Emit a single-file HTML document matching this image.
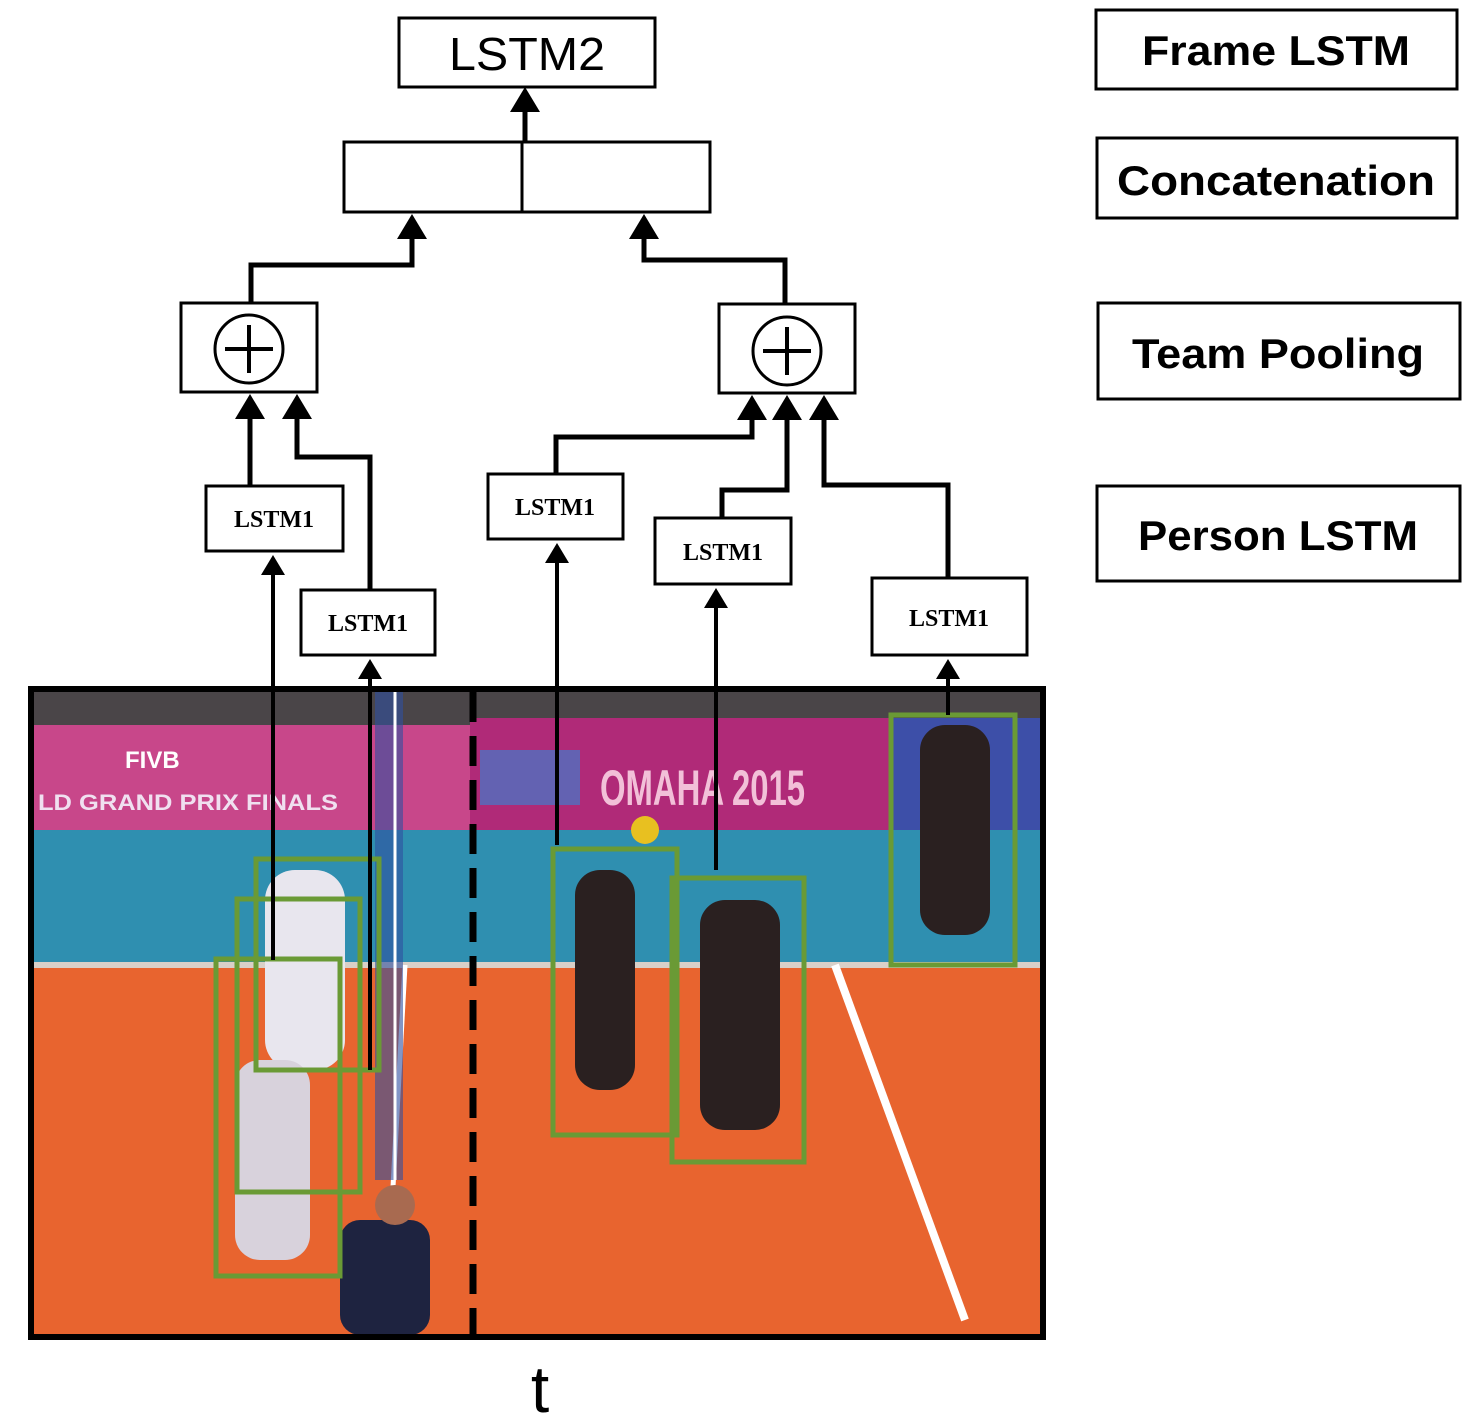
<!DOCTYPE html>
<html><head><meta charset="utf-8"><style>html,body{margin:0;padding:0;background:#fff}svg{display:block}</style></head>
<body>
<svg width="1478" height="1422" viewBox="0 0 1478 1422" xmlns="http://www.w3.org/2000/svg">
<defs>
<marker id="ah" markerWidth="5" markerHeight="6" refX="3" refY="3" orient="auto" markerUnits="strokeWidth">
<path d="M0,0 L5,3 L0,6 z" fill="#000"/></marker>
</defs>
<g>
<rect x="30" y="688" width="1014" height="650" fill="#e8642f"/>
<rect x="30" y="688" width="1014" height="40" fill="#4a4548"/>
<rect x="30" y="725" width="440" height="105" fill="#c8478a"/>
<rect x="470" y="718" width="420" height="112" fill="#b02a78"/>
<rect x="890" y="718" width="154" height="112" fill="#3d4fa8"/>
<rect x="30" y="830" width="1014" height="135" fill="#2f8fb0"/>
<rect x="30" y="962" width="1014" height="6" fill="#d9d0c8"/>
<text x="125" y="768" font-family="Liberation Sans" font-weight="bold" font-size="24" fill="#fff">FIVB</text>
<text x="38" y="810" font-family="Liberation Sans" font-weight="bold" font-size="22" fill="#f0e0f0" textLength="300" lengthAdjust="spacingAndGlyphs">LD GRAND PRIX FINALS</text>
<text x="600" y="805" font-family="Liberation Sans" font-weight="bold" font-size="50" fill="#f2c0d8" textLength="205" lengthAdjust="spacingAndGlyphs">OMAHA 2015</text>
<rect x="480" y="750" width="100" height="55" fill="#5070c0" opacity="0.8"/>
<line x1="835" y1="965" x2="965" y2="1320" stroke="#fff" stroke-width="8"/>
<line x1="405" y1="965" x2="385" y2="1335" stroke="#fff" stroke-width="5"/>
<rect x="375" y="690" width="28" height="490" fill="#3050a0" opacity="0.6"/>
<line x1="395" y1="690" x2="395" y2="1180" stroke="#fff" stroke-width="3"/>
<rect x="575" y="870" width="60" height="220" rx="25" fill="#2a2020"/>
<rect x="700" y="900" width="80" height="230" rx="25" fill="#2a2020"/>
<rect x="920" y="725" width="70" height="210" rx="25" fill="#2a2020"/>
<circle cx="645" cy="830" r="14" fill="#e8c020"/>
<rect x="265" y="870" width="80" height="200" rx="30" fill="#e8e6ee"/>
<rect x="235" y="1060" width="75" height="200" rx="25" fill="#d8d2dc"/>
<rect x="340" y="1220" width="90" height="115" rx="20" fill="#1e2340"/>
<circle cx="395" cy="1205" r="20" fill="#a86a50"/>
</g>
<g fill="none" stroke="#6a9a35" stroke-width="5">
<rect x="216" y="959" width="124" height="317"/>
<rect x="237" y="899" width="123" height="293"/>
<rect x="256" y="859" width="123" height="211"/>
<rect x="553" y="849" width="124" height="286"/>
<rect x="672" y="878" width="132" height="284"/>
<rect x="891" y="715" width="124" height="250"/>
</g>
<rect x="31" y="689" width="1012" height="648" fill="none" stroke="#000" stroke-width="6"/>
<line x1="473" y1="692" x2="473" y2="1335" stroke="#000" stroke-width="7" stroke-dasharray="30,14"/>
<text x="540" y="1412" text-anchor="middle" font-family="Liberation Sans" font-size="66">t</text>

<g fill="#fff" stroke="#000" stroke-width="3">
<rect x="399" y="18" width="256" height="69"/>
<rect x="344" y="142" width="366" height="70"/>
<rect x="181" y="303" width="136" height="89"/>
<rect x="719" y="304" width="136" height="89"/>
<rect x="206" y="486" width="137" height="65"/>
<rect x="301" y="590" width="134" height="65"/>
<rect x="488" y="474" width="135" height="65"/>
<rect x="655" y="518" width="136" height="66"/>
<rect x="872" y="578" width="155" height="77"/>
<rect x="1096" y="10" width="361" height="79"/>
<rect x="1097" y="138" width="360" height="80"/>
<rect x="1098" y="303" width="362" height="96"/>
<rect x="1097" y="486" width="363" height="95"/>
</g>
<line x1="522" y1="142" x2="522" y2="212" stroke="#000" stroke-width="3"/>
<circle cx="249" cy="349" r="34" fill="none" stroke="#000" stroke-width="3"/>
<path d="M249,325 V373 M225,349 H273" stroke="#000" stroke-width="4"/>
<circle cx="787" cy="351" r="34" fill="none" stroke="#000" stroke-width="3"/>
<path d="M787,327 V375 M763,351 H811" stroke="#000" stroke-width="4"/>

<text x="527" y="70" font-family="Liberation Sans" font-size="46" text-anchor="middle" textLength="156" lengthAdjust="spacingAndGlyphs">LSTM2</text>
<g font-family="Liberation Serif" font-weight="bold" font-size="24" text-anchor="middle">
<text x="274" y="527">LSTM1</text>
<text x="368" y="631">LSTM1</text>
<text x="555" y="515">LSTM1</text>
<text x="723" y="560">LSTM1</text>
<text x="949" y="626">LSTM1</text>
</g>
<g font-family="Liberation Sans" font-weight="bold" font-size="42" text-anchor="middle">
<text x="1276" y="65" textLength="268" lengthAdjust="spacingAndGlyphs">Frame LSTM</text>
<text x="1276" y="195" textLength="318" lengthAdjust="spacingAndGlyphs">Concatenation</text>
<text x="1278" y="368" textLength="292" lengthAdjust="spacingAndGlyphs">Team Pooling</text>
<text x="1278" y="550" textLength="280" lengthAdjust="spacingAndGlyphs">Person LSTM</text>
</g>

<g fill="none" stroke="#000" stroke-width="5" marker-end="url(#ah)">
<path d="M525,142 V97"/>
<path d="M251,303 V265 H412 V224"/>
<path d="M785,304 V260 H644 V224"/>
<path d="M250,486 V404"/>
<path d="M370,590 V457 H297 V404"/>
<path d="M556,474 V437 H752 V405"/>
<path d="M722,518 V490 H787 V405"/>
<path d="M948,578 V485 H824 V405"/>
</g>
<g fill="none" stroke="#000" stroke-width="4" marker-end="url(#ah)">
<path d="M273,960 V563"/>
<path d="M370,1070 V667"/>
<path d="M557,845 V551"/>
<path d="M716,870 V596"/>
<path d="M948,715 V667"/>
</g>
</svg>
</body></html>
